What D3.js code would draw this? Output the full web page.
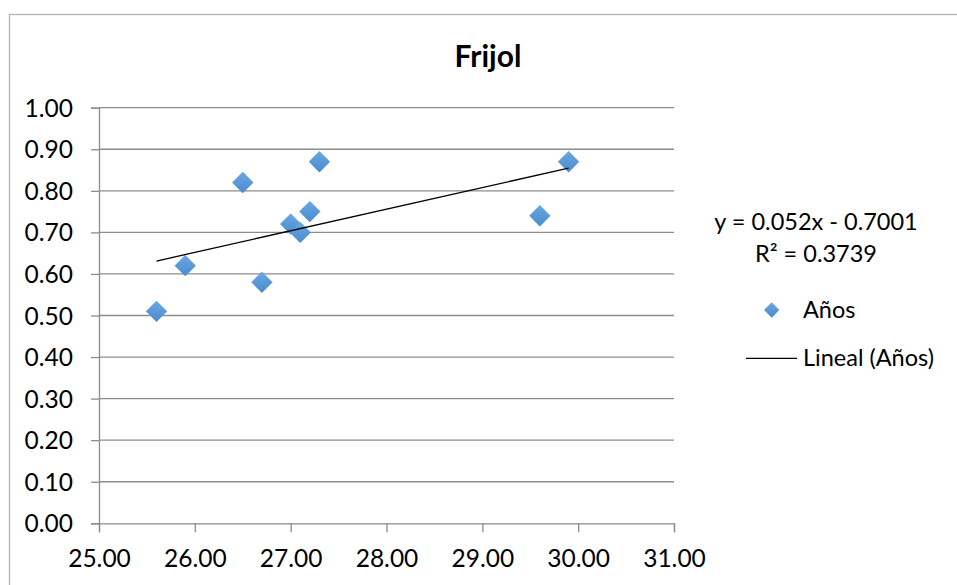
<!DOCTYPE html>
<html>
<head>
<meta charset="utf-8">
<script src="https://cdn.jsdelivr.net/npm/d3@7"></script>
<style>
  html, body { margin: 0; padding: 0; background: #fff; }
  svg { display: block; font-family: "Lato", "Open Sans", sans-serif; }
</style>
</head>
<body>
<svg id="chart" width="957" height="585"></svg>
<script>
// Temperatura media (x) vs. rendimiento (y), serie "Años"
const xValues = [25.6, 25.9, 26.5, 26.7, 27.0, 27.1, 27.2, 27.3, 29.6, 29.9];
const yValues = [0.51, 0.62, 0.82, 0.58, 0.72, 0.70, 0.75, 0.87, 0.74, 0.87];
const xTicks = [25, 26, 27, 28, 29, 30, 31];
const yTicks = [0, 0.1, 0.2, 0.3, 0.4, 0.5, 0.6, 0.7, 0.8, 0.9, 1.0];
const trendSlope = 0.052;
const trendIntercept = -0.7001;
const rSquared = 0.3739;
const title = "Frijol";
const seriesName = "Años";

const svg = d3.select("#chart");
const W = 957, H = 585;
const plot = { left: 99, right: 674, top: 107.7, bottom: 523.3 };
const gridColor = "#8c8c8c";
const labelFont = "Lato, 'Open Sans', sans-serif";

// chart frame
svg.append("rect")
  .attr("x", 9.5).attr("y", 14.5)
  .attr("width", W + 20).attr("height", H + 20)
  .attr("fill", "#fff").attr("stroke", "#b3b3b3").attr("stroke-width", 1.3);

const x = d3.scaleLinear().domain([25, 31]).range([plot.left, plot.right]);
const y = d3.scaleLinear().domain([0, 1]).range([plot.bottom, plot.top]);

const defs = svg.append("defs");
const grad = defs.append("linearGradient").attr("id", "mk")
  .attr("x1", "0").attr("y1", "0").attr("x2", "0").attr("y2", "1");
grad.append("stop").attr("offset", "0%").attr("stop-color", "#6aa8e2");
grad.append("stop").attr("offset", "100%").attr("stop-color", "#4a8bcf");

// horizontal gridlines
svg.append("g")
  .selectAll("line")
  .data(yTicks.slice(1))
  .join("line")
  .attr("x1", plot.left).attr("x2", plot.right)
  .attr("y1", d => y(d)).attr("y2", d => y(d))
  .attr("stroke", gridColor).attr("stroke-width", 1.3);

// y axis
const yAxis = svg.append("g")
  .attr("transform", `translate(${plot.left},0)`)
  .call(d3.axisLeft(y).tickValues(yTicks).tickFormat(d3.format(".2f")).tickSizeOuter(0).tickSize(8).tickPadding(18));
yAxis.select(".domain").attr("stroke", gridColor).attr("stroke-width", 1.3);
yAxis.selectAll(".tick line").attr("stroke", gridColor).attr("stroke-width", 1.3);
yAxis.selectAll("text").attr("font-size", 24.5).attr("fill", "#000")
  .attr("font-family", labelFont).attr("dy", "0.35em");

// x axis
const xAxis = svg.append("g")
  .attr("transform", `translate(0,${plot.bottom})`)
  .call(d3.axisBottom(x).tickValues(xTicks).tickFormat(d3.format(".2f")).tickSizeOuter(0).tickSize(9).tickPadding(17));
xAxis.select(".domain").attr("stroke", gridColor).attr("stroke-width", 1.3);
xAxis.selectAll(".tick line").attr("stroke", gridColor).attr("stroke-width", 1.3);
xAxis.selectAll("text").attr("font-size", 24.5).attr("fill", "#000")
  .attr("font-family", labelFont).attr("dy", "0.71em");

// markers
const diamond = d3.symbol().type(d3.symbolDiamond2).size(290);
svg.append("g")
  .selectAll("path")
  .data(xValues.map((v, i) => [v, yValues[i]]))
  .join("path")
  .attr("d", diamond)
  .attr("transform", d => `translate(${x(d[0])},${y(d[1])})`)
  .attr("fill", "url(#mk)");

// linear trendline over the data range
const xMin = d3.min(xValues), xMax = d3.max(xValues);
svg.append("line")
  .attr("x1", x(xMin)).attr("y1", y(trendSlope * xMin + trendIntercept))
  .attr("x2", x(xMax)).attr("y2", y(trendSlope * xMax + trendIntercept))
  .attr("stroke", "#000").attr("stroke-width", 1.3);

// title
svg.append("text")
  .attr("x", 488).attr("y", 67)
  .attr("text-anchor", "middle")
  .attr("font-size", 30).attr("font-weight", "bold")
  .text(title);

// trendline equation
svg.append("text")
  .attr("x", 816).attr("y", 230)
  .attr("text-anchor", "middle").attr("font-size", 23.5)
  .text(`y = ${trendSlope}x - ${Math.abs(trendIntercept)}`);
svg.append("text")
  .attr("x", 816).attr("y", 262)
  .attr("text-anchor", "middle").attr("font-size", 23.5)
  .text(`R² = ${rSquared}`);

// legend
const legend = svg.append("g");
legend.append("path")
  .attr("d", d3.symbol().type(d3.symbolDiamond2).size(150))
  .attr("transform", "translate(771.7,310)")
  .attr("fill", "url(#mk)");
legend.append("text")
  .attr("x", 803).attr("y", 310).attr("dy", "0.35em")
  .attr("font-size", 23.5).text(seriesName);
legend.append("line")
  .attr("x1", 746).attr("x2", 797).attr("y1", 358.3).attr("y2", 358.3)
  .attr("stroke", "#000").attr("stroke-width", 1.3);
legend.append("text")
  .attr("x", 803).attr("y", 358).attr("dy", "0.35em")
  .attr("font-size", 23.5).text(`Lineal (${seriesName})`);
</script>
</body>
</html>
